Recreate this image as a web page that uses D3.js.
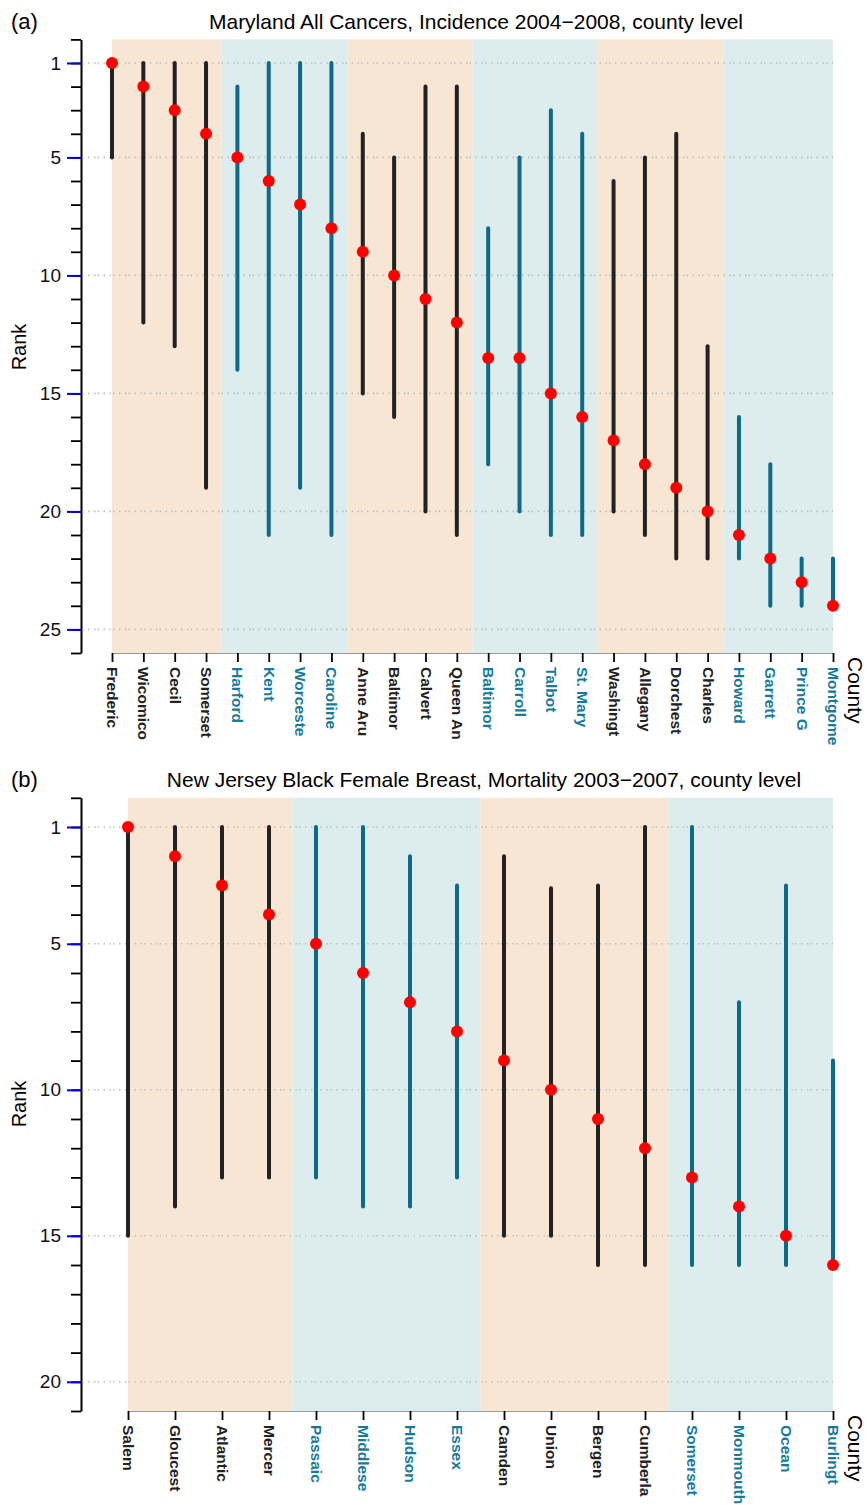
<!DOCTYPE html>
<html lang="en">
<head>
    <meta charset="UTF-8">
    <title>County rank intervals</title>
    <script src="https://d3js.org/d3.v7.min.js"></script>
    <style>
        body { margin: 0; background: #fff; }
        svg { font-family: "Liberation Sans", Arial, Helvetica, sans-serif; }
        .grid { stroke: #bdbdbd; stroke-width: 1.6; stroke-dasharray: 1.5,4.5,1.5,2,1.5,4.5; }
    </style>
</head>
<body>
    <div id="chart"></div>

    <script>
        // Panel (a): Maryland
        const mdCounties = ["Frederic", "Wicomico", "Cecil", "Somerset", "Harford", "Kent", "Worceste", "Caroline",
            "Anne Aru", "Baltimor", "Calvert", "Queen An", "Baltimor ", "Carroll", "Talbot", "St. Mary",
            "Washingt", "Allegany", "Dorchest", "Charles", "Howard", "Garrett", "Prince G", "Montgome"];
        const mdRank = [1, 2, 3, 4, 5, 6, 7, 8, 9, 10, 11, 12, 13.5, 13.5, 15, 16, 17, 18, 19, 20, 21, 22, 23, 24];
        const mdLow  = [1, 1, 1, 1, 2, 1, 1, 1, 4, 5, 2, 2, 8, 5, 3, 4, 6, 5, 4, 13, 16, 18, 22, 22];
        const mdHigh = [5, 12, 13, 19, 14, 21, 19, 21, 15, 16, 20, 21, 18, 20, 21, 21, 20, 21, 22, 22, 22, 24, 24, 24];
        const mdTicks = [1, 5, 10, 15, 20, 25];

        // Panel (b): New Jersey
        const njCounties = ["Salem", "Gloucest", "Atlantic", "Mercer", "Passaic", "Middlese", "Hudson", "Essex",
            "Camden", "Union", "Bergen", "Cumberla", "Somerset", "Monmouth", "Ocean", "Burlingt"];
        const njRank = [1, 2, 3, 4, 5, 6, 7, 8, 9, 10, 11, 12, 13, 14, 15, 16];
        const njLow  = [1, 1, 1, 1, 1, 1, 2, 3, 2, 3.1, 3, 1, 1, 7, 3, 9];
        const njHigh = [15, 14, 13, 13, 13, 14, 14, 13, 15, 15, 16, 16, 16, 16, 16, 16];
        const njTicks = [1, 5, 10, 15, 20];

        const orangeBg = "#f8e6d4";
        const blueBg = "#ddecec";
        const darkCol = "#222222";
        const tealCol = "#0d6a8a";
        const tealText = "#157a9c";

        const svg = d3.select("#chart").append("svg")
            .attr("width", 867)
            .attr("height", 1505);

        function drawPanel(opt) {
            const g = svg.append("g");
            const n = opt.counties.length;

            const x = d3.scalePoint()
                .domain(d3.range(n))
                .range(opt.xRange);
            const y = d3.scaleLinear()
                .domain([0, opt.maxRank])
                .range(opt.yRange);

            const group = i => Math.floor(i / 4);
            const isBlue = i => group(i) % 2 === 1;

            // background bands (groups of 4 counties)
            const nGroups = Math.ceil(n / 4);
            const bands = d3.range(nGroups).map(k => {
                const first = k * 4, last = Math.min(n - 1, k * 4 + 3);
                const x0 = k === 0 ? x(first) : (x(first - 1) + x(first)) / 2;
                const x1 = last === n - 1 ? x(last) : (x(last) + x(last + 1)) / 2;
                return { x0, x1, k };
            });
            g.selectAll(".band")
                .data(bands)
                .enter()
                .append("rect")
                .attr("x", d => d.x0)
                .attr("y", y(0))
                .attr("width", d => d.x1 - d.x0)
                .attr("height", y(opt.maxRank) - y(0))
                .attr("fill", d => d.k % 2 ? blueBg : orangeBg);

            // dotted grid lines at labelled ranks
            g.selectAll(".grid")
                .data(opt.ticks)
                .enter()
                .append("line")
                .attr("class", "grid")
                .attr("x1", opt.yAxisX + 7)
                .attr("x2", opt.xRange[1])
                .attr("y1", d => y(d))
                .attr("y2", d => y(d));

            // y axis: minor ticks at every rank
            const yMinor = g.append("g")
                .attr("transform", `translate(${opt.yAxisX},0)`)
                .call(d3.axisLeft(y)
                    .tickValues(d3.range(0, opt.maxRank + 1))
                    .tickSize(10)
                    .tickSizeOuter(0)
                    .tickFormat(""));
            yMinor.select(".domain").attr("stroke", "#000").attr("stroke-width", 2);
            yMinor.selectAll(".tick line").attr("stroke", "#000").attr("stroke-width", 1.8);

            // y axis: labelled ticks in blue
            const yMajor = g.append("g")
                .attr("transform", `translate(${opt.yAxisX},0)`)
                .call(d3.axisLeft(y)
                    .tickValues(opt.ticks)
                    .tickSize(14)
                    .tickPadding(6)
                    .tickSizeOuter(0));
            yMajor.select(".domain").remove();
            yMajor.selectAll(".tick line").attr("stroke", "#0000dd").attr("stroke-width", 2);
            yMajor.selectAll(".tick text")
                .attr("fill", "#111")
                .style("font-size", "19px");

            // x axis
            const xAxis = g.append("g")
                .attr("transform", `translate(0,${y(opt.maxRank)})`)
                .call(d3.axisBottom(x)
                    .tickSize(9)
                    .tickSizeOuter(0)
                    .tickFormat(i => opt.counties[i].trim()));
            xAxis.select(".domain").attr("stroke", "#999").attr("stroke-width", 1.2);
            xAxis.selectAll(".tick line").attr("stroke", "#000").attr("stroke-width", 1.8);
            xAxis.selectAll(".tick text")
                .attr("transform", "rotate(90)")
                .attr("x", 14)
                .attr("y", 0)
                .attr("dy", "0.35em")
                .style("text-anchor", "start")
                .style("font-size", "15.5px")
                .style("font-weight", "bold")
                .attr("fill", i => isBlue(i) ? tealText : "#222");

            // interval lines
            g.selectAll(".interval")
                .data(d3.range(n))
                .enter()
                .append("line")
                .attr("x1", i => x(i))
                .attr("x2", i => x(i))
                .attr("y1", i => y(opt.low[i]))
                .attr("y2", i => y(opt.high[i]))
                .attr("stroke", i => isBlue(i) ? tealCol : darkCol)
                .attr("stroke-width", 4)
                .attr("stroke-linecap", "round");

            // point estimates
            g.selectAll(".point")
                .data(d3.range(n))
                .enter()
                .append("circle")
                .attr("cx", i => x(i))
                .attr("cy", i => y(opt.rank[i]))
                .attr("r", 6)
                .attr("fill", "#ff0000");

            // titles and axis labels
            g.append("text")
                .attr("x", 11)
                .attr("y", opt.titleY)
                .style("font-size", "22px")
                .text(opt.tag);
            g.append("text")
                .attr("x", opt.titleX)
                .attr("y", opt.titleY)
                .style("text-anchor", "middle")
                .style("font-size", "21px")
                .text(opt.title);
            g.append("text")
                .attr("transform", `translate(26,${opt.rankY}) rotate(-90)`)
                .style("text-anchor", "middle")
                .style("font-size", "20px")
                .text("Rank");
            g.append("text")
                .attr("transform", `translate(855,${y(opt.maxRank) + 4}) rotate(90)`)
                .attr("dy", "0.35em")
                .style("text-anchor", "start")
                .style("font-size", "21px")
                .text("County");
        }

        drawPanel({
            counties: mdCounties, rank: mdRank, low: mdLow, high: mdHigh, ticks: mdTicks,
            maxRank: 26, xRange: [112, 833], yRange: [39.4, 653], yAxisX: 81,
            tag: "(a)", title: "Maryland All Cancers, Incidence 2004\u22122008, county level",
            titleX: 476, titleY: 29, rankY: 347
        });

        drawPanel({
            counties: njCounties, rank: njRank, low: njLow, high: njHigh, ticks: njTicks,
            maxRank: 21, xRange: [128, 833], yRange: [797.8, 1411], yAxisX: 81,
            tag: "(b)", title: "New Jersey Black Female Breast, Mortality 2003\u22122007, county level",
            titleX: 484, titleY: 787, rankY: 1104
        });
    </script>
</body>
</html>
